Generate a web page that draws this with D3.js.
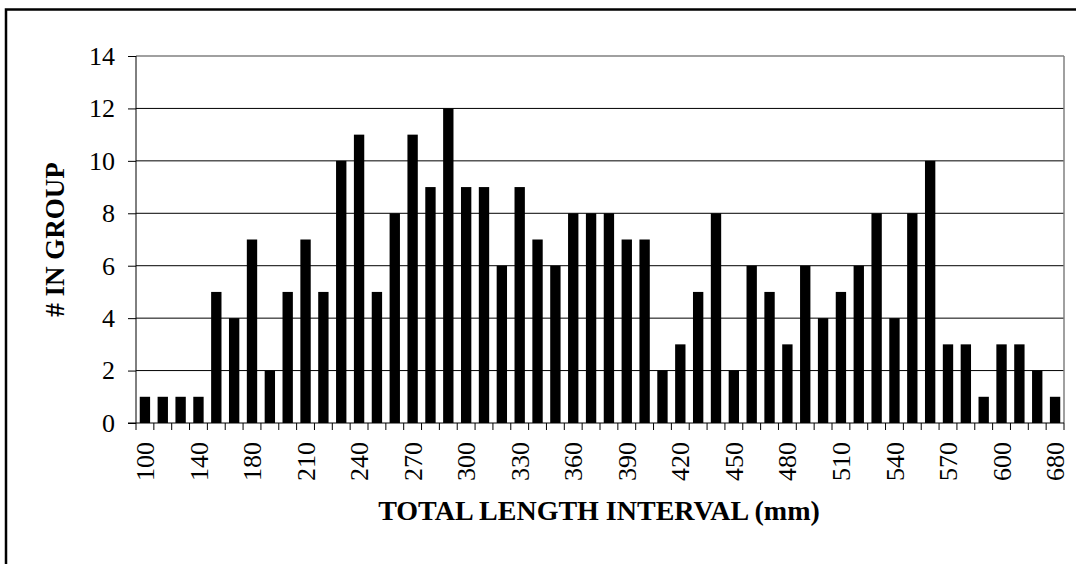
<!DOCTYPE html>
<html>
<head>
<meta charset="utf-8">
<script src="https://cdn.jsdelivr.net/npm/d3@7"></script>
<style>
  html, body { margin: 0; padding: 0; background: #fff; }
  svg { display: block; }
  text { font-family: "Liberation Serif", "Times New Roman", serif; fill: #000; }
</style>
</head>
<body>
<svg id="chart" width="1076" height="564"></svg>
<script>
// Length-interval categories (only every third one is labelled in the chart)
const categories = ["100","110","130","140","150","160",
  "180","190","200","210","220","230","240","250","260","270","280","290",
  "300","310","320","330","340","350","360","370","380","390","400","410",
  "420","430","440","450","460","470","480","490","500","510","520","530",
  "540","550","560","570","580","590","600","620","640","680"];
// Number of fish in each length group
const counts = [1,1,1,1,5,4,7,2,5,7,5,10,11,5,8,11,9,12,9,9,6,9,7,6,8,8,
  8,7,7,2,3,5,8,2,6,5,3,6,4,5,6,8,4,8,10,3,3,1,3,3,2,1];
// Labels shown on the x axis
const xTickLabels = ["100","140","180","210","240","270","300","330","360","390",
  "420","450","480","510","540","570","600","680"];
const yTicks = [0,2,4,6,8,10,12,14];
const yTitle = "# IN GROUP";
const xTitle = "TOTAL LENGTH INTERVAL (mm)";

const FONT = '"Liberation Serif", "Times New Roman", serif';
const svg = d3.select("#chart");
const plot = { left: 136, right: 1064, top: 56, bottom: 423 };

// outer frame
svg.append("rect")
  .attr("x", 6).attr("y", 9.5).attr("width", 2000).attr("height", 2000)
  .attr("fill", "none").attr("stroke", "#000").attr("stroke-width", 2.5);

const x = d3.scaleBand().domain(categories)
  .range([plot.left, plot.right]).paddingInner(0.42).paddingOuter(0.21);
const y = d3.scaleLinear().domain([0, 14]).range([plot.bottom, plot.top]);

// gridlines
svg.append("g").selectAll("line").data(yTicks.filter(d => d > 0)).join("line")
  .attr("x1", plot.left).attr("x2", plot.right)
  .attr("y1", d => y(d)).attr("y2", d => y(d))
  .attr("stroke", d => d === 14 ? "#808080" : "#000").attr("stroke-width", d => d === 14 ? 1.5 : 1);

// plot-area right border
svg.append("line")
  .attr("x1", plot.right).attr("x2", plot.right)
  .attr("y1", plot.top).attr("y2", plot.bottom)
  .attr("stroke", "#808080").attr("stroke-width", 1.5);

// bars
svg.append("g").selectAll("rect").data(categories).join("rect")
  .attr("x", d => x(d))
  .attr("width", x.bandwidth())
  .attr("y", (d, i) => y(counts[i]))
  .attr("height", (d, i) => y(0) - y(counts[i]))
  .attr("fill", "#000");

// y axis
const yAxis = d3.axisLeft(y).tickValues(yTicks).tickSize(8).tickPadding(13);
const gy = svg.append("g").attr("transform", `translate(${plot.left},0)`).call(yAxis)
  .attr("font-family", FONT);
gy.select(".domain").attr("stroke", "#000").attr("d", `M0,${plot.top}V${plot.bottom}`);
gy.selectAll(".tick line").attr("stroke", "#000");
gy.selectAll(".tick text").attr("font-size", 26).style("font-family", FONT);

// x axis baseline
svg.append("line")
  .attr("x1", plot.left - 8).attr("x2", plot.right)
  .attr("y1", plot.bottom).attr("y2", plot.bottom)
  .attr("stroke", "#000").attr("stroke-width", 1);

// x tick marks between categories
const step = x.step();
const start = x(categories[0]) - step * x.paddingInner() / 2;
const boundaries = d3.range(categories.length + 1).map(i => start + i * step);
svg.append("g").selectAll("line").data(boundaries).join("line")
  .attr("x1", d => d).attr("x2", d => d)
  .attr("y1", plot.bottom).attr("y2", plot.bottom + 7)
  .attr("stroke", "#000");

// x tick labels (every third category)
const labelled = categories.filter(c => xTickLabels.includes(c));
svg.append("g").selectAll("text").data(labelled).join("text")
  .attr("transform", d => `translate(${x(d) + x.bandwidth() / 2},${plot.bottom + 19}) rotate(-90)`)
  .attr("text-anchor", "end")
  .attr("dy", "0.35em")
  .attr("font-size", 26)
  .style("font-family", FONT)
  .text(d => d);

// axis titles
svg.append("text")
  .attr("transform", `translate(64,${(plot.top + plot.bottom) / 2}) rotate(-90)`)
  .attr("text-anchor", "middle")
  .attr("font-size", 27).attr("font-weight", "bold")
  .style("font-family", FONT)
  .text(yTitle);

svg.append("text")
  .attr("x", (plot.left + plot.right) / 2 - 1).attr("y", 520)
  .attr("text-anchor", "middle")
  .attr("font-size", 28).attr("font-weight", "bold")
  .style("font-family", FONT)
  .text(xTitle);
</script>
</body>
</html>
